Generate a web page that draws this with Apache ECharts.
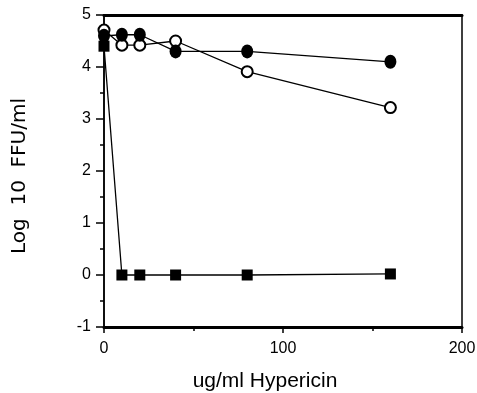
<!DOCTYPE html>
<html>
<head>
<meta charset="utf-8">
<script src="https://cdn.jsdelivr.net/npm/echarts@6/dist/echarts.min.js"></script>
<style>
  html, body { margin: 0; padding: 0; background: #fff; }
  #chart { width: 477px; height: 393px; }
</style>
</head>
<body>
<div id="chart"></div>
<script>
// concentrations (ug/ml)
const doses = [0, 10, 20, 40, 80, 160];
// Log10 FFU/ml per series
const filledCircles = [4.6, 4.62, 4.62, 4.3, 4.3, 4.1];
const openCircles = [4.71, 4.42, 4.42, 4.5, 3.91, 3.22];
const squares = [4.4, 0, 0, 0, 0, 0.02];

const pairs = (ys) => doses.map((x, i) => [x, ys[i]]);

const chart = echarts.init(document.getElementById('chart'));

const font = 'Liberation Sans, Arial, sans-serif';
const black = '#000';

const option = {
  animation: false,
  grid: {
    left: 104, right: 15, top: 15, bottom: 66,
    outerBoundsMode: 'none',
    show: true,
    borderColor: black,
    borderWidth: 1.5
  },
  xAxis: [
    {
      type: 'value',
      min: 0, max: 200, interval: 100,
      name: 'ug/ml Hypericin',
      nameLocation: 'middle',
      nameGap: 44,
      nameTextStyle: { color: black, fontSize: 21, fontFamily: font, padding: [0, 36, 0, 0] },
      axisLine: { onZero: false, lineStyle: { color: black, width: 3 } },
      axisTick: { length: 6, lineStyle: { color: black, width: 1.5 } },
      minorTick: { show: true, splitNumber: 2, length: 4, lineStyle: { color: black, width: 1.5 } },
      splitLine: { show: false },
      axisLabel: { color: black, fontSize: 16, fontFamily: font, margin: 14 }
    },
    {
      type: 'value',
      position: 'top',
      min: 0, max: 200,
      axisLine: { show: true, onZero: false, lineStyle: { color: black, width: 3 } },
      axisTick: { show: false },
      axisLabel: { show: false },
      splitLine: { show: false }
    }
  ],
  yAxis: {
    type: 'value',
    min: -1, max: 5, interval: 1,
    name: 'Log  10  FFU/ml',
    nameLocation: 'middle',
    nameGap: 74,
    nameTextStyle: { color: black, fontSize: 20, fontFamily: 'DejaVu Sans, sans-serif', padding: [0, 10, 0, 0] },
    axisLine: { onZero: false, lineStyle: { color: black, width: 1.5 } },
    axisTick: { length: 8, lineStyle: { color: black, width: 1.5 } },
    minorTick: { show: true, splitNumber: 2, length: 4, lineStyle: { color: black, width: 1.5 } },
    splitLine: { show: false },
    axisLabel: { color: black, fontSize: 16, fontFamily: font, margin: 13 }
  },
  series: [
    {
      name: 'open',
      type: 'line',
      data: pairs(openCircles),
      symbol: 'circle',
      symbolSize: 11,
      lineStyle: { color: black, width: 1.3 },
      itemStyle: { color: '#fff', borderColor: black, borderWidth: 2 }
    },
    {
      name: 'filled',
      type: 'line',
      data: pairs(filledCircles),
      symbol: 'circle',
      symbolSize: [12, 14],
      lineStyle: { color: black, width: 1.3 },
      itemStyle: { color: black, borderWidth: 0 }
    },
    {
      name: 'squares',
      type: 'line',
      data: pairs(squares),
      symbol: 'rect',
      symbolSize: 11,
      lineStyle: { color: black, width: 1.3 },
      itemStyle: { color: black, borderWidth: 0 }
    }
  ]
};

chart.setOption(option);
</script>
</body>
</html>
